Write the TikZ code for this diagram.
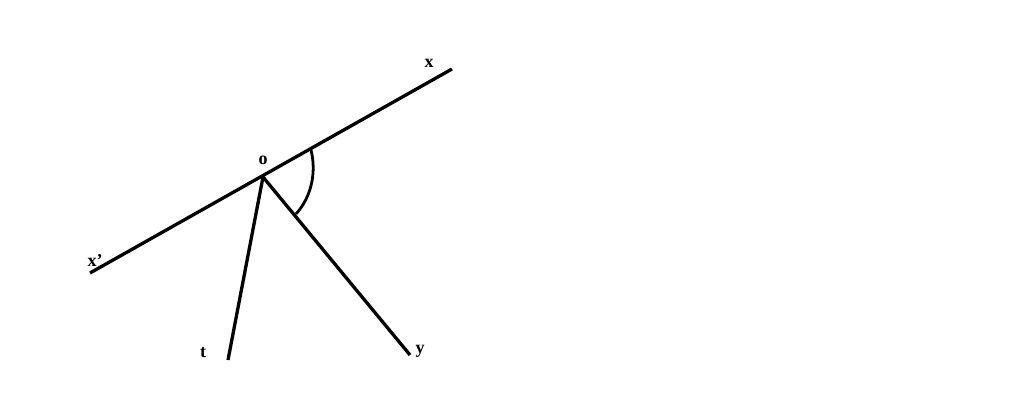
\documentclass[tikz,border=0pt]{standalone}
\usepackage{fontspec}
\setmainfont{Liberation Serif}
\begin{document}
\begin{tikzpicture}[x=1pt,y=-1pt,
  ln/.style={line width=3.3pt},
  lbl/.style={font=\bfseries\fontsize{18}{18}\selectfont, inner sep=0pt}]
\useasboundingbox (0,0) rectangle (1024,416);
\fill[white] (0,0) rectangle (1024,416);
\coordinate (O) at (263,177);
\coordinate (X) at (452,69);
\coordinate (Xp) at (90,273);
\coordinate (T) at (228,360);
\coordinate (Y) at (410,355);
\coordinate (A1) at (311,150);
\coordinate (A2) at (296,214);
\draw[ln] (Xp) -- (X);
\draw[ln] (O) -- (T);
\draw[ln] (O) -- (Y);
\draw[line width=2.8pt] (A1) .. controls (316,170) and (313,195) .. (A2);
\node[lbl] (lO) at (263,160) {o};
\node[lbl] (lX) at (429,63) {x};
\node[lbl] (lXp) at (95,261) {x'};
\node[lbl] (lT) at (203,353) {t};
\node[lbl] (lY) at (420,351) {y};
\end{tikzpicture}
\end{document}
